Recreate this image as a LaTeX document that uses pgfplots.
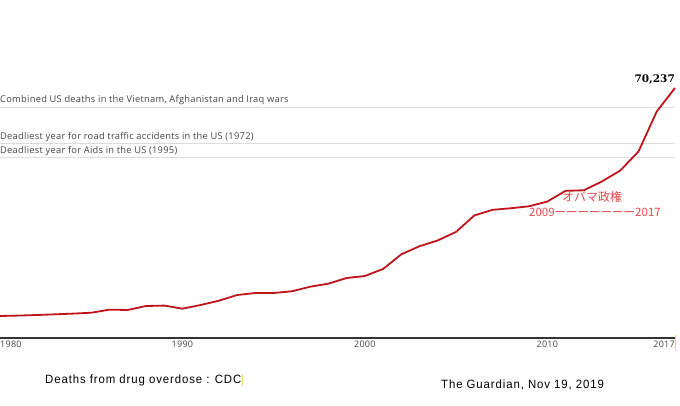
\documentclass[border=0pt]{standalone}
\usepackage{pgfplots}
\pgfplotsset{compat=1.18}
\usepackage{fontspec}
\setmainfont{Open Sans}
\newfontfamily\refont[LetterSpace=3]{Open Sans}
\newfontfamily\cjk{Noto Sans CJK JP}
\newfontfamily\slab{DejaVu Serif}
\newfontfamily\cond[FakeStretch=0.95,LetterSpace=7.5]{Liberation Sans}
\definecolor{odred}{HTML}{C0141C}
\definecolor{jpred}{HTML}{E8484A}
\definecolor{refgray}{HTML}{DCDCDC}
\definecolor{labgray}{HTML}{444444}
\definecolor{cursor}{HTML}{F2D66A}
\begin{document}
\begin{tikzpicture}
\useasboundingbox (0pt,0pt) rectangle (680pt,406pt);
\begin{axis}[
  at={(0pt,68pt)}, anchor=origin,
  scale only axis, width=675pt, height=250pt,
  xmin=1980, xmax=2017, ymin=0, ymax=70237,
  axis y line=none, axis x line*=bottom,
  axis line style={draw=black!80, line width=1.1pt, -},
  xtick=\empty, ytick=\empty,
  clip=false,
]
% reference lines
\draw[refgray, line width=0.9pt] (axis cs:1980,64900) -- (axis cs:2017,64900);
\draw[refgray, line width=0.9pt] (axis cs:1980,54589) -- (axis cs:2017,54589);
\draw[refgray, line width=0.9pt] (axis cs:1980,50628) -- (axis cs:2017,50628);
\node[anchor=south west, inner sep=0pt, font=\refont\fontsize{9.3}{10}\selectfont, text=labgray] at (axis cs:1980,65500) {Combined US deaths in the Vietnam, Afghanistan and Iraq wars};
\node[anchor=south west, inner sep=0pt, font=\refont\fontsize{9.3}{10}\selectfont, text=labgray] at (axis cs:1980,55200) {Deadliest year for road traffic accidents in the US (1972)};
\node[anchor=south west, inner sep=0pt, font=\refont\fontsize{9.3}{10}\selectfont, text=labgray] at (axis cs:1980,51250) {Deadliest year for Aids in the US (1995)};
% data
\addplot[odred, line width=1.8pt, line join=round] coordinates {
(1980,6180) (1981,6300) (1982,6450) (1983,6650) (1984,6850) (1985,7100)
(1986,7960) (1987,7870) (1988,8990) (1989,9100) (1990,8240)
(1991,9270) (1992,10480) (1993,12080) (1994,12640) (1995,12640)
(1996,13120) (1997,14410) (1998,15260) (1999,16849) (2000,17415)
(2001,19394) (2002,23518) (2003,25785) (2004,27424) (2005,29813)
(2006,34425) (2007,36010) (2008,36450) (2009,37004) (2010,38329)
(2011,41340) (2012,41502) (2013,43982) (2014,47055) (2015,52404)
(2016,63632) (2017,70237)
};
\node[anchor=south east, inner sep=0pt, font=\slab\bfseries\fontsize{10.5}{11}\selectfont] at (axis cs:2017,71300) {70,237};
% tick labels
\node[anchor=north west, inner sep=0pt, font=\refont\fontsize{9}{10}\selectfont, text=labgray] at ([yshift=-2.5pt]axis cs:1980,0) {1980};
\node[anchor=north, inner sep=0pt, font=\refont\fontsize{9}{10}\selectfont, text=labgray] at ([yshift=-2.5pt]axis cs:1990,0) {1990};
\node[anchor=north, inner sep=0pt, font=\refont\fontsize{9}{10}\selectfont, text=labgray] at ([yshift=-2.5pt]axis cs:2000,0) {2000};
\node[anchor=north, inner sep=0pt, font=\refont\fontsize{9}{10}\selectfont, text=labgray] at ([yshift=-2.5pt]axis cs:2010,0) {2010};
\node[anchor=north east, inner sep=0pt, font=\refont\fontsize{9}{10}\selectfont, text=labgray] at ([yshift=-2.5pt]axis cs:2017,0) {2017};
\draw[cursor, line width=1pt] ([xshift=0.8pt,yshift=3pt]axis cs:2017,0) -- ([xshift=0.8pt,yshift=-13pt]axis cs:2017,0);
\end{axis}
% annotations
\node[anchor=west, inner sep=0pt, text=jpred, font=\cjk\fontsize{12}{13}\selectfont] at (562pt,209pt) {オバマ政権};
\node[anchor=west, inner sep=0pt, text=jpred, font=\cjk\fontsize{11.5}{13}\selectfont] at (529pt,194pt) {2009ーーーーーーー2017};
\node[anchor=west, inner sep=0pt, font=\cond\fontsize{12}{13}\selectfont] (src) at (45pt,26pt) {Deaths from drug overdose : CDC};
\draw[cursor, line width=0.8pt] ([xshift=0.5pt]src.north east) -- ([xshift=0.5pt]src.south east);
\node[anchor=west, inner sep=0pt, font=\cond\fontsize{12}{13}\selectfont] at (441pt,21pt) {The Guardian, Nov 19, 2019};
\end{tikzpicture}
\end{document}
